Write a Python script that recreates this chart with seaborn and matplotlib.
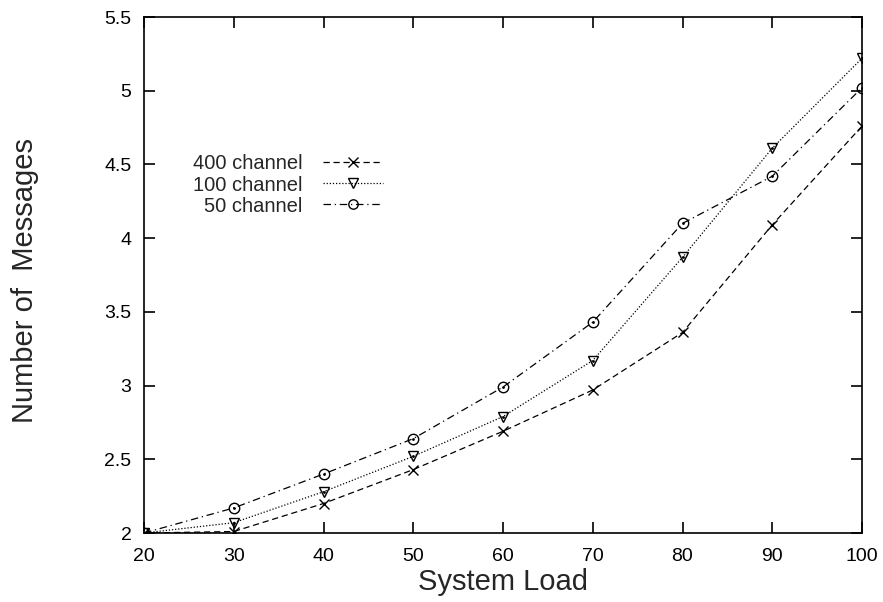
import matplotlib
matplotlib.use("Agg")
import matplotlib.pyplot as plt
import seaborn as sns
import pandas as pd

load = [20, 30, 40, 50, 60, 70, 80, 90, 100]
ch400 = [2.00, 2.01, 2.20, 2.43, 2.69, 2.97, 3.36, 4.09, 4.76]
ch100 = [2.00, 2.07, 2.28, 2.52, 2.79, 3.17, 3.87, 4.61, 5.22]
ch50 = [2.00, 2.17, 2.40, 2.64, 2.99, 3.43, 4.10, 4.42, 5.02]
labels = ["400 channel", "100 channel", "50 channel"]

sns.set_theme(style="ticks")
plt.rcParams['font.family'] = ['Liberation Sans', 'DejaVu Sans']

W, H = 883, 602
fig = plt.figure(figsize=(W/100, H/100), dpi=100)
L, R, T, B = 144, 862, 17, 533
ax = fig.add_axes([L/W, 1-B/H, (R-L)/W, (B-T)/H])

styles = [
    dict(linestyle=(0, (5, 3)), marker='x', ms=7.5, mew=1.0),
    dict(linestyle=(0, (1, 1.5)), marker='v', ms=7.5, mew=1.0, mfc='none'),
    dict(linestyle=(0, (6, 3, 1, 3)), marker='o', ms=7.5, mew=1.0, mfc='none'),
]
for vals, lab, st in zip([ch400, ch100, ch50], labels, styles):
    df = pd.DataFrame({"load": load, "val": vals})
    sns.lineplot(data=df, x="load", y="val", ax=ax, color='black', lw=0.9,
                 label=lab, mec='black', **st)
for vals in [ch100, ch50]:
    ax.plot(load, vals, linestyle='none', marker='.', ms=2, color='black')

ax.set_xlim(20, 100)
ax.set_ylim(2, 5.5)
ax.set_xticks(load)
ax.set_yticks([2, 2.5, 3, 3.5, 4, 4.5, 5, 5.5])
ax.set_yticklabels(["2", "2.5", "3", "3.5", "4", "4.5", "5", "5.5"])
ax.tick_params(direction='in', top=True, right=True, length=8, width=1.2,
               labelsize=14, colors='black')
ax.tick_params(axis='x', pad=11)
ax.tick_params(axis='y', pad=9)
for s in ax.spines.values():
    s.set_linewidth(1.2)
    s.set_color('black')
ax.set_xlabel("System Load", fontsize=21, va='center', ha='center')
ax.xaxis.set_label_coords(0.5, (B - 582) / (B - T))
ax.set_ylabel("Number of  Messages", fontsize=21, va='center', ha='center')
ax.yaxis.set_label_coords((25 - L) / (R - L), 0.49)

leg = ax.legend(loc='center right', bbox_to_anchor=(383/W, 1-185/H),
                bbox_transform=fig.transFigure, frameon=False, borderpad=0,
                borderaxespad=0, markerfirst=False, fontsize=14.5,
                handlelength=3.0, labelspacing=0.1, handletextpad=1.0,
                markerscale=0.9)
for t in leg.get_texts():
    t.set_ha('right')
leg._legend_box.align = 'right'

fig.savefig("out.png", dpi=100)
